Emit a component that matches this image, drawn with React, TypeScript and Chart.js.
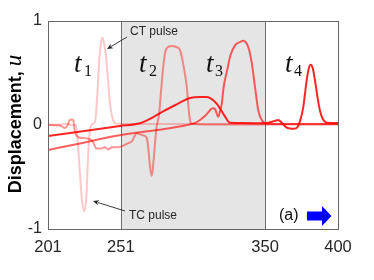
import React, { useEffect, useRef } from "react";
import { Chart, registerables } from "chart.js";

Chart.register(...registerables);

// ---- data ----
const X_TICKS = [201, 251, 350, 400];
const Y_TICKS = [-1, 0, 1];
const SHADE_RANGE = [251, 350];
const SERIES_NAMES = ["t1", "t2", "t3", "t4"];
const SERIES_COLORS = ["rgba(255,0,0,0.22)", "rgba(255,0,0,0.42)", "rgba(255,0,0,0.62)", "rgba(255,0,0,0.86)"];

const X_T1 = [201, 210, 214, 217, 220.2, 221.8, 223, 224.3, 225.9, 227.4, 228.7, 229.8, 231.5, 233.3, 234.6, 236, 237.4, 238.3, 239.4, 240.6, 242.2, 243.5, 245.6, 247.7, 260, 300, 350, 400];
const Y_T1 = [0, 0.005, 0.012, 0.0, 0.0, -0.24, -0.48, -0.72, -0.83, -0.67, -0.24, -0.05, 0.01, 0.03, 0.24, 0.58, 0.8, 0.84, 0.79, 0.69, 0.43, 0.21, 0.05, 0.012, 0.01, 0.01, 0.01, 0.01];

const X_T2 = [201, 209.2, 212.6, 214.5, 216.1, 218.3, 219.5, 222.4, 227, 231.8, 234.2, 237.6, 240.1, 242.2, 245, 247.7, 250.4, 253.8, 256, 258.4, 261.9, 264, 266.4, 268.8, 270, 271, 272.2, 273.4, 274.4, 275.5, 277.2, 278.6, 280, 281.3, 282.5, 286, 289, 291.6, 293.6, 296.2, 297.4, 298.4, 299.8, 320, 400];
const Y_T2 = [0.0, -0.005, -0.03, 0.0, 0.05, 0.05, -0.065, -0.12, -0.128, -0.16, -0.225, -0.225, -0.215, -0.235, -0.215, -0.215, -0.21, -0.19, -0.175, -0.16, -0.08, -0.09, -0.1, -0.125, -0.25, -0.4, -0.49, -0.35, -0.18, -0.02, 0.1, 0.33, 0.55, 0.69, 0.74, 0.76, 0.75, 0.72, 0.6, 0.37, 0.17, 0.05, 0.01, 0.005, 0.005];

const X_T3 = [201, 223, 247, 275.8, 295, 301.9, 305.3, 309.4, 314.2, 315.5, 316.8, 317.8, 319, 320.2, 321.6, 324, 326.2, 329.6, 333, 335, 338.4, 340.8, 343, 345.3, 347.6, 349.9, 355, 400];
const Y_T3 = [-0.24, -0.178, -0.106, -0.048, -0.005, 0.02, 0.048, 0.096, 0.16, 0.155, 0.11, 0.08, 0.13, 0.2, 0.37, 0.53, 0.67, 0.77, 0.8, 0.81, 0.75, 0.6, 0.37, 0.14, 0.05, 0.016, 0.01, 0.01];

const X_T4 = [201, 250.4, 264.1, 271, 277.9, 288.1, 298.4, 305.3, 310.1, 314.2, 317, 319, 322.5, 325.9, 335, 350, 356.8, 358.8, 361.6, 364.3, 367.1, 369.8, 371.9, 374, 376.2, 378.5, 380.1, 381.3, 382.6, 384.2, 385.9, 387.6, 389.5, 392.5, 400];
const Y_T4 = [-0.106, -0.01, 0.016, 0.058, 0.115, 0.19, 0.26, 0.27, 0.27, 0.24, 0.2, 0.16, 0.08, 0.022, 0.02, 0.016, 0.04, 0.048, 0.02, -0.02, -0.034, -0.036, -0.025, 0.04, 0.175, 0.43, 0.55, 0.58, 0.55, 0.43, 0.27, 0.14, 0.06, 0.022, 0.02];

const SERIES_X = [X_T1, X_T2, X_T3, X_T4];
const SERIES_Y = [Y_T1, Y_T2, Y_T3, Y_T4];

const Y_TITLE = "Displacement,";
const Y_TITLE_VAR = "u";

const TEXT_COLOR = "#262626";
const SANS = "'Liberation Sans', Arial, sans-serif";
const SERIF = "'Liberation Serif', 'Times New Roman', serif";

function drawArrow(ctx: CanvasRenderingContext2D, x1: number, y1: number, x2: number, y2: number) {
  ctx.save();
  ctx.strokeStyle = TEXT_COLOR;
  ctx.fillStyle = TEXT_COLOR;
  ctx.lineWidth = 0.9;
  const ang = Math.atan2(y2 - y1, x2 - x1);
  const hl = 6, hw = 2.6;
  ctx.beginPath();
  ctx.moveTo(x1, y1);
  ctx.lineTo(x2 - Math.cos(ang) * hl * 0.8, y2 - Math.sin(ang) * hl * 0.8);
  ctx.stroke();
  ctx.beginPath();
  ctx.moveTo(x2, y2);
  ctx.lineTo(x2 - Math.cos(ang) * hl - Math.sin(ang) * hw, y2 - Math.sin(ang) * hl + Math.cos(ang) * hw);
  ctx.lineTo(x2 - Math.cos(ang) * hl * 0.7, y2 - Math.sin(ang) * hl * 0.7);
  ctx.lineTo(x2 - Math.cos(ang) * hl + Math.sin(ang) * hw, y2 - Math.sin(ang) * hl - Math.cos(ang) * hw);
  ctx.closePath();
  ctx.fill();
  ctx.restore();
}

const shadePlugin = {
  id: "shade",
  beforeDatasetsDraw(chart: any) {
    const { ctx, chartArea, scales } = chart;
    const x0 = scales.x.getPixelForValue(SHADE_RANGE[0]);
    const x1 = scales.x.getPixelForValue(SHADE_RANGE[1]);
    ctx.save();
    ctx.fillStyle = "#e5e5e5";
    ctx.fillRect(x0, chartArea.top, x1 - x0, chartArea.bottom - chartArea.top);
    ctx.strokeStyle = "#6e6e6e";
    ctx.lineWidth = 1;
    ctx.beginPath();
    ctx.moveTo(Math.round(x0) + 0.5, chartArea.top);
    ctx.lineTo(Math.round(x0) + 0.5, chartArea.bottom);
    ctx.moveTo(Math.round(x1) + 0.5, chartArea.top);
    ctx.lineTo(Math.round(x1) + 0.5, chartArea.bottom);
    ctx.stroke();
    ctx.restore();
  },
  afterDraw(chart: any) {
    const { ctx, chartArea } = chart;
    ctx.save();
    // frame
    ctx.strokeStyle = "#666666";
    ctx.lineWidth = 1;
    ctx.strokeRect(
      Math.round(chartArea.left) + 0.5,
      Math.round(chartArea.top) + 0.5,
      Math.round(chartArea.right - chartArea.left),
      Math.round(chartArea.bottom - chartArea.top)
    );

    // t labels
    const tl = [
      [74, 139, 206, 285],
      [84, 149, 215, 294],
    ];
    ctx.fillStyle = "#111";
    ctx.textBaseline = "alphabetic";
    ctx.textAlign = "left";
    SERIES_NAMES.forEach((name, i) => {
      ctx.font = `italic 27px ${SERIF}`;
      ctx.fillText(name.charAt(0), tl[0][i], 72);
      ctx.font = `16px ${SERIF}`;
      ctx.fillText(name.slice(1), tl[1][i], 76);
    });

    // pulse annotations
    ctx.fillStyle = TEXT_COLOR;
    ctx.font = `12px ${SANS}`;
    ctx.fillText("CT pulse", 130, 35);
    ctx.fillText("TC pulse", 129, 219);
    drawArrow(ctx, 127, 37, 107, 49);
    drawArrow(ctx, 125, 211, 93, 201);

    // (a) + blue arrow
    ctx.font = `16px ${SANS}`;
    ctx.fillStyle = "#111";
    ctx.fillText("(a)", 279, 220);
    ctx.fillStyle = "#0000ff";
    ctx.beginPath();
    ctx.moveTo(307, 211.5);
    ctx.lineTo(322, 211.5);
    ctx.lineTo(322, 206);
    ctx.lineTo(331.5, 216);
    ctx.lineTo(322, 226);
    ctx.lineTo(322, 220.5);
    ctx.lineTo(307, 220.5);
    ctx.closePath();
    ctx.fill();

    // y-axis title
    ctx.translate(21, 124);
    ctx.rotate(-Math.PI / 2);
    ctx.fillStyle = "#000";
    ctx.font = `bold 18px ${SANS}`;
    const w1 = ctx.measureText(Y_TITLE + " ").width;
    ctx.font = `italic 23px ${SERIF}`;
    const w2 = ctx.measureText(Y_TITLE_VAR).width;
    const start = -(w1 + w2) / 2;
    ctx.font = `bold 18px ${SANS}`;
    ctx.fillText(Y_TITLE + " ", start, 0);
    ctx.font = `italic 23px ${SERIF}`;
    ctx.fillText(Y_TITLE_VAR, start + w1, 0);
    ctx.restore();
  },
};

export default function App() {
  const ref = useRef<HTMLCanvasElement>(null);
  useEffect(() => {
    document.body.style.margin = "0";
    const canvas = ref.current!;
    const datasets = SERIES_NAMES.map((name, i) => ({
      label: name,
      data: SERIES_X[i].map((x, j) => ({ x, y: SERIES_Y[i][j] })),
      borderColor: SERIES_COLORS[i],
      backgroundColor: SERIES_COLORS[i],
      borderWidth: 2,
      pointRadius: 0,
      cubicInterpolationMode: "monotone" as const,
      order: 4 - i,
    }));
    const chart = new Chart(canvas, {
      type: "line",
      data: { datasets },
      options: {
        responsive: false,
        animation: false,
        layout: { padding: { top: 21, right: 36, left: 0, bottom: 0 } },
        plugins: { legend: { display: false }, tooltip: { enabled: false } },
        scales: {
          x: {
            type: "linear",
            min: 201,
            max: 400,
            grid: { display: false, drawTicks: false },
            border: { display: false },
            afterBuildTicks: (axis: any) => {
              axis.ticks = X_TICKS.map((v) => ({ value: v }));
            },
            afterFit: (axis: any) => {
              axis.height = 51;
            },
            ticks: {
              color: TEXT_COLOR,
              font: { size: 16.5, family: SANS },
              padding: 9,
              maxRotation: 0,
              autoSkip: false,
              callback: (v: any) => String(v),
            },
          },
          y: {
            type: "linear",
            min: -1,
            max: 1,
            grid: { display: false, drawTicks: false },
            border: { display: false },
            afterBuildTicks: (axis: any) => {
              axis.ticks = Y_TICKS.map((v) => ({ value: v }));
            },
            afterFit: (axis: any) => {
              axis.width = 48;
            },
            ticks: {
              color: TEXT_COLOR,
              font: { size: 16, family: SANS },
              padding: 6,
              callback: (v: any) => String(v),
            },
          },
        },
      },
      plugins: [shadePlugin],
    });
    return () => chart.destroy();
  }, []);
  return (
    <canvas ref={ref} width={374} height={280} style={{ display: "block", width: 374, height: 280 }} />
  );
}
